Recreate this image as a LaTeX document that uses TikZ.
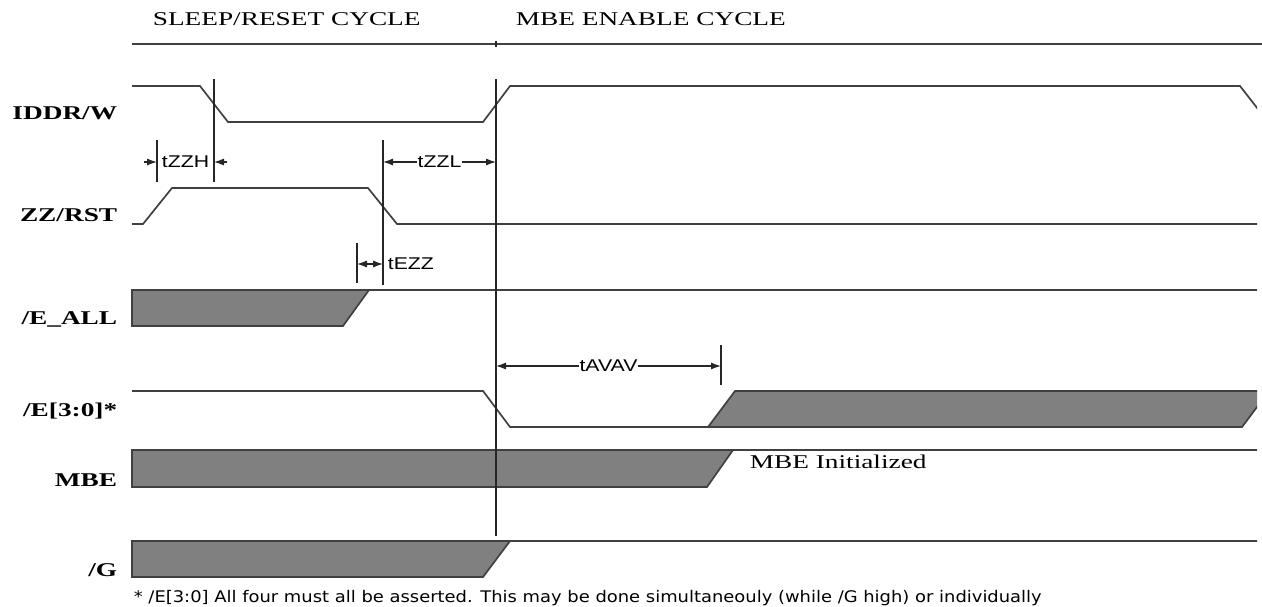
\documentclass[tikz,border=0pt]{standalone}
\usepackage{fontspec}
\setmainfont{Liberation Serif}[FakeStretch=1.4]
\setsansfont{Liberation Sans}[FakeStretch=1.25]
\newfontfamily\notefont{DejaVu Sans}[FakeStretch=1.12]
\usetikzlibrary{arrows.meta,positioning}

\begin{document}
\begin{tikzpicture}[x=1pt,y=1pt,line width=1.7pt]

      \tikzstyle{wave}=[draw=black!75,line join=miter]
      \tikzstyle{busy}=[wave,fill=black!50]
      \tikzstyle{tickline}=[draw=black!85,line width=1.4pt]
      \tikzstyle{signal}=[anchor=base east,inner sep=0pt,font=\fontsize{19.5}{22}\selectfont\bfseries]
      \tikzstyle{phase}=[anchor=base west,inner sep=0pt,font=\fontsize{19.5}{22}\selectfont]
      \tikzstyle{timing}=[inner sep=1pt,font=\sffamily\fontsize{17}{20}\selectfont]
      \tikzstyle{dim}=[draw=black!85,line width=1.1pt,{Latex[length=10pt,width=7pt]}-{Latex[length=10pt,width=7pt]}]
      \tikzstyle{dimin}=[draw=black!85,line width=1.1pt,-{Latex[length=10pt,width=7pt]}]

      \useasboundingbox (0,0) rectangle (1262,-607);

      % cycle headers
      \node[phase] (SR) at (152,-26) {SLEEP/RESET CYCLE};
      \node[phase] (EN) at (515,-26) {MBE ENABLE CYCLE};
      \draw[wave] (132,-44) -- (1262,-44);
      \draw[tickline] (496,-41) -- (496,-47);

      % signal names
      \node[signal] (IDDR) at (118,-120) {IDDR/W};
      \node[signal] (ZZ) at (118,-222) {ZZ/RST};
      \node[signal] (EALL) at (118,-324) {/E\_ALL};
      \node[signal] (E30) at (118,-416) {/E[3:0]*};
      \node[signal] (MBE) at (118,-486) {MBE};
      \node[signal] (G) at (118,-576) {/G};

      \begin{scope}
      \clip (0,0) rectangle (1257,-607);
      % IDDR/W
      \draw[wave] (132,-86) -- (200,-86) -- (228,-122) -- (483,-122) -- (510,-86) -- (1240,-86) -- (1268,-122);
      % ZZ/RST
      \draw[wave] (132,-224) -- (143,-224) -- (172,-188) -- (368,-188) -- (397,-224) -- (1262,-224);
      % /E_ALL
      \draw[busy] (132,-290) -- (369,-290) -- (343,-326) -- (132,-326) -- cycle;
      \draw[wave] (369,-290) -- (1262,-290);
      % /E[3:0]
      \draw[wave] (132,-391) -- (483,-391) -- (510,-427) -- (708,-427);
      \draw[busy] (708,-427) -- (735,-391) -- (1269,-391) -- (1242,-427) -- cycle;
      % MBE
      \draw[busy] (132,-450) -- (733,-450) -- (707,-487) -- (132,-487) -- cycle;
      \draw[wave] (733,-450) -- (1262,-450);
      % /G
      \draw[busy] (132,-541) -- (510,-541) -- (483,-577) -- (132,-577) -- cycle;
      \draw[wave] (510,-541) -- (1262,-541);
      \end{scope}

      % reference lines
      \draw[tickline] (496,-79) -- (496,-536);
      \draw[tickline] (214,-79) -- (214,-182);
      \draw[tickline] (157,-140) -- (157,-182);
      \draw[tickline] (383,-140) -- (383,-285);
      \draw[tickline] (357,-243) -- (357,-283);
      \draw[tickline] (721,-345) -- (721,-385);

      % tZZH
      \coordinate (zzhA) at (144,-162);
      \coordinate (zzhL) at (157,-162);
      \coordinate (zzhR) at (214,-162);
      \coordinate (zzhB) at (227,-162);
      \draw [dimin] (zzhA) -- (zzhL);
      \draw [dimin] (zzhB) -- (zzhR);
      \node[timing] (ZZH) at (185.5,-162) {tZZH};

      % tZZL
      \coordinate (zzlL) at (383,-162);
      \coordinate (zzlR) at (496,-162);
      \draw [dim] (zzlL) -- (zzlR);
      \node[timing,fill=white] (ZZL) at (439.5,-162) {tZZL};

      % tEZZ
      \coordinate (ezzL) at (357,-264);
      \coordinate (ezzR) at (383,-264);
      \draw [dim] (ezzL) -- (ezzR);
      \node[timing,anchor=west,right=3pt of ezzR] (EZZ) {tEZZ};

      % tAVAV
      \coordinate (avL) at (496,-366);
      \coordinate (avR) at (721,-366);
      \draw [dim] (avL) -- (avR);
      \node[timing,fill=white] (AVAV) at (608.5,-366) {tAVAV};

      \node[phase] (INIT) at (749,-468) {MBE Initialized};

      \node[anchor=base west,inner sep=0pt,font=\notefont\fontsize{16}{18}\selectfont] (NOTE) at (133,-602)
        {* /E[3:0] All four must all be asserted. This may be done simultaneouly (while /G high) or individually};

\end{tikzpicture}
\end{document}
